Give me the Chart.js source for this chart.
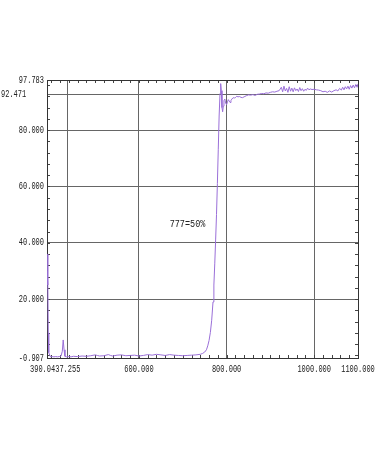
<!DOCTYPE html>
<html>
<head>
<meta charset="utf-8">
<script src="https://cdn.jsdelivr.net/npm/chart.js@4"></script>
<style>
html,body{margin:0;padding:0;background:#fff;}
canvas{display:block;}
</style>
</head>
<body>
<canvas id="c" width="375" height="450"></canvas>
<script>
// ---- data ----
const wavelength = [390.04,391.5,392.3,393,394,398,402,406,410,414,418,422,425,427,429,431,435,440,445,450,460,470,480,490,500,505,510,520,530,535,540,550,560,570,580,590,600,610,620,630,640,650,660,670,680,690,700,710,720,730,740,745,750,754,757,760,763,766,769,771,773,775,777,779,781,783,785,786.5,788,789.5,791,792.5,794,796,798,800,802,804,806,808,810,812,815,818,820,823,826,830,833,836,840,845,850,855,860,865,870,875,880,885,890,895,900,905,910,915,920,925,928,931,934,937,940,943,946,949,952,955,958,961,964,967,970,973,976,979,982,985,988,991,995,1000,1005,1010,1015,1020,1025,1030,1035,1040,1045,1050,1054,1058,1062,1065,1068,1071,1074,1077,1080,1083,1086,1089,1092,1095,1098,1100];
const transmittance = [30,36,25,8,1,-0.5,-0.4,-0.5,-0.4,-0.5,-0.4,-0.2,1.5,5.5,2,-0.3,-0.5,-0.4,-0.5,-0.3,-0.4,-0.2,-0.3,-0.1,0.2,0.0,-0.2,-0.1,0.3,0.0,-0.2,0.1,0.2,-0.1,0.0,0.1,-0.2,0.0,0.3,0.1,0.4,0.2,0.0,0.3,0.1,0.0,-0.1,0.0,0.1,0.2,0.4,0.7,1.2,2.0,3.4,5.3,8.2,12.5,19,25,32.5,41,50,61,73,85,93,96.5,94,88,86.5,88.5,90.5,91,89.5,89,90,90.8,90.3,89.8,90.5,91,91.5,91.4,91.5,92,91.8,91.9,91.6,91.5,91.8,92.2,92.5,92.4,92.6,92.3,92.7,92.8,93,92.9,93.2,93.1,93.4,93.6,93.5,93.8,94.0,95.2,93.6,95.6,93.9,94.8,93.4,95.4,93.8,94.9,93.6,95.0,94.0,94.6,93.7,95.1,94.0,94.7,93.8,94.5,94.1,94.9,94.3,94.6,94.4,94.5,94.3,94.2,94.0,93.6,93.8,93.4,93.9,93.5,94.0,94.3,93.9,94.8,94.2,95.2,94.3,95.4,94.6,95.6,94.5,95.8,94.9,96.0,95.0,96.2,95.2,96.4,95.8];
const xTicks = [390.04, 437.255, 600, 800, 1000, 1100];
const xTickLabels = ["390.0", "437.255", "600.000", "800.000", "1000.000", "1100.000"];
const yTicks = [-0.907, 20, 40, 60, 80, 92.471, 97.783];
const yTickLabels = ["-0.907", "20.000", "40.000", "60.000", "80.000", "92.471", "97.783"];
const annotationText = "777=50%";
const annotationAt = [777, 50];

const points = wavelength.map((w, i) => ({x: w, y: transmittance[i]}));

function drawText(ctx, text, x, y, align, sx, font) {
  ctx.save();
  ctx.font = font;
  ctx.textBaseline = 'middle';
  const w = ctx.measureText(text).width * sx;
  let left = x;
  if (align === 'right') left = x - w;
  else if (align === 'center') left = x - w / 2;
  ctx.translate(left, y);
  ctx.scale(sx, 1);
  ctx.textAlign = 'left';
  ctx.fillText(text, 0, 0);
  ctx.restore();
}

const decor = {
  id: 'decor',
  beforeDatasetsDraw(chart) {
    const ctx = chart.ctx;
    const a = chart.chartArea;
    const xs = chart.scales.x, ys = chart.scales.y;
    ctx.save();
    ctx.strokeStyle = '#444';
    ctx.lineWidth = 1;
    ctx.beginPath();
    for (let v = 400; v < 1100; v += 20) {
      const px = Math.round(xs.getPixelForValue(v)) + 0.5;
      ctx.moveTo(px, a.bottom); ctx.lineTo(px, a.bottom - 3);
      ctx.moveTo(px, a.top); ctx.lineTo(px, a.top + 3);
    }
    for (let v = 0; v < 97.783; v += 4) {
      const py = Math.round(ys.getPixelForValue(v)) + 0.5;
      ctx.moveTo(a.left, py); ctx.lineTo(a.left + 3, py);
      ctx.moveTo(a.right, py); ctx.lineTo(a.right - 3, py);
    }
    ctx.stroke();
    ctx.strokeStyle = '#333';
    ctx.strokeRect(Math.round(a.left) + 0.5, Math.round(a.top) + 0.5, Math.round(a.right - a.left), Math.round(a.bottom - a.top));
    ctx.restore();
  },
  afterDraw(chart) {
    const ctx = chart.ctx;
    const a = chart.chartArea;
    const xs = chart.scales.x, ys = chart.scales.y;
    ctx.save();
    ctx.fillStyle = '#222';
    const f = '10px "Liberation Mono"';
    const sx = 0.7;
    yTicks.forEach((v, i) => {
      const py = ys.getPixelForValue(v);
      if (yTickLabels[i] === '92.471') drawText(ctx, yTickLabels[i], 1, py - 1, 'left', sx, f);
      else drawText(ctx, yTickLabels[i], 44, py, 'right', sx, f);
    });
    xTicks.forEach((v, i) => {
      const px = xs.getPixelForValue(v);
      if (i === 0) drawText(ctx, xTickLabels[i], px + 4, a.bottom + 11, 'right', sx, f);
      else if (i === 1) drawText(ctx, xTickLabels[i], xs.getPixelForValue(xTicks[0]) + 4, a.bottom + 11, 'left', sx, f);
      else drawText(ctx, xTickLabels[i], px, a.bottom + 11, 'center', sx, f);
    });
    drawText(ctx, annotationText, xs.getPixelForValue(annotationAt[0]) - 29, ys.getPixelForValue(annotationAt[1]) + 10, 'center', 0.85, '10px "Liberation Mono"');
    ctx.restore();
  }
};

new Chart(document.getElementById('c'), {
  type: 'line',
  data: {
    datasets: [{
      data: points,
      borderColor: '#9a6fd8',
      borderWidth: 1,
      pointRadius: 0,
      tension: 0,
      fill: false
    }]
  },
  options: {
    responsive: false,
    animation: false,
    events: [],
    layout: {padding: {top: 80, right: 17, left: 0, bottom: 0}},
    plugins: {legend: {display: false}, tooltip: {enabled: false}},
    scales: {
      x: {
        type: 'linear', min: 390.04, max: 1100,
        afterBuildTicks: s => { s.ticks = xTicks.map(v => ({value: v})); },
        afterFit: s => { s.height = 92; },
        ticks: {display: false},
        grid: {color: '#666', lineWidth: 1, drawTicks: false},
        border: {display: true, color: '#333'}
      },
      y: {
        type: 'linear', min: -0.907, max: 97.783,
        afterBuildTicks: s => { s.ticks = yTicks.map(v => ({value: v})); },
        afterFit: s => { s.width = 47; },
        ticks: {display: false},
        grid: {color: '#666', lineWidth: 1, drawTicks: false},
        border: {display: true, color: '#333'}
      }
    }
  },
  plugins: [decor]
});
</script>
</body>
</html>
